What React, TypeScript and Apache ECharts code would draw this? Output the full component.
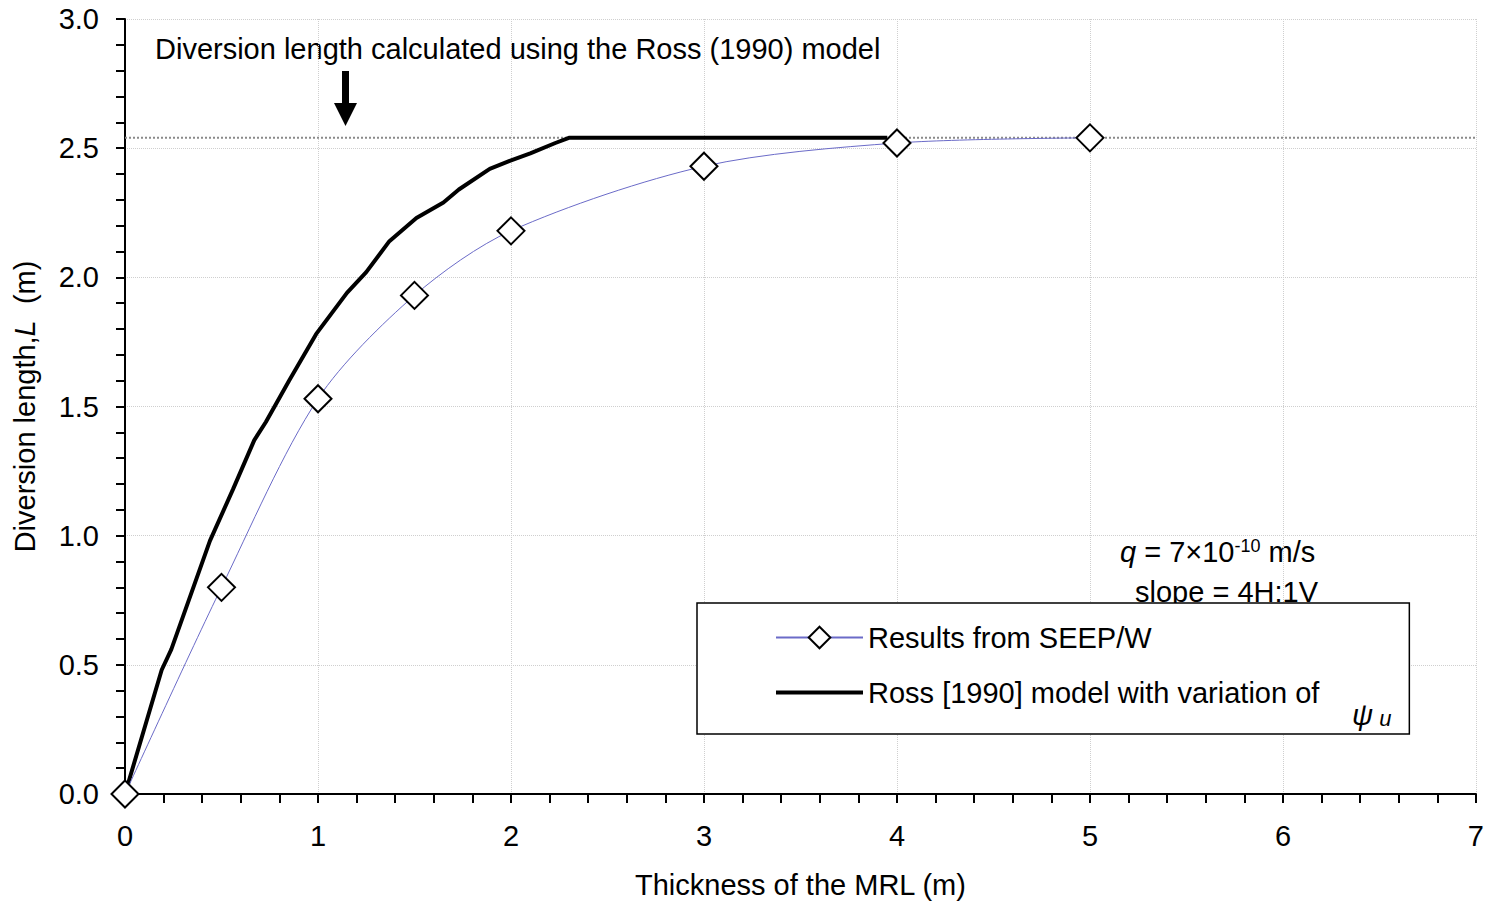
import React, { useEffect, useRef } from "react";
import * as echarts from "echarts";

// ---- data ----
const seepX = [0, 0.5, 1, 1.5, 2, 3, 4, 5];
const seepY = [0, 0.8, 1.53, 1.93, 2.18, 2.43, 2.52, 2.54];

const rossX = [0, 0.19, 0.24, 0.44, 0.56, 0.67, 0.73, 0.85, 0.99, 1.15, 1.25, 1.37, 1.51, 1.65, 1.73, 1.89, 1.99, 2.1, 2.23, 2.3, 3.95];
const rossY = [0, 0.48, 0.56, 0.98, 1.18, 1.37, 1.44, 1.6, 1.78, 1.94, 2.02, 2.14, 2.23, 2.29, 2.34, 2.42, 2.45, 2.48, 2.52, 2.54, 2.54];

const rossLimit = 2.54;
const xRange = [0, 7];
const yRange = [0, 3];

const seepName = "Results from SEEP/W";
const rossName = "Ross [1990] model with variation of";
const xName = "Thickness of the MRL (m)";
const annotation = "Diversion length calculated using the Ross (1990) model";

const FONT = "'Liberation Sans', Arial, sans-serif";

export default function App() {
  const ref = useRef<HTMLDivElement>(null);
  useEffect(() => {
    if (!ref.current) return;
    const chart = echarts.init(ref.current, undefined, { renderer: "svg" });
    const seepData = seepX.map((x, i) => [x, seepY[i]]);
    const rossData = rossX.map((x, i) => [x, rossY[i]]);
    const refData = xRange.map((x) => [x, rossLimit]);

    chart.setOption({
      animation: false,
      backgroundColor: "#fff",
      textStyle: { fontFamily: FONT, color: "#000" },
      grid: { left: 125, top: 19, right: 9, bottom: 113, containLabel: false },
      xAxis: {
        type: "value",
        min: xRange[0],
        max: xRange[1],
        interval: 1,
        name: xName,
        nameLocation: "middle",
        nameGap: 76,
        nameTextStyle: { fontSize: 29, color: "#000", fontFamily: FONT },
        axisLine: { show: true, onZero: false, lineStyle: { color: "#000", width: 2 } },
        axisTick: { show: true, inside: false, length: 9, lineStyle: { color: "#000", width: 2 } },
        minorTick: { show: true, splitNumber: 5, length: 9, lineStyle: { color: "#000", width: 2 } },
        axisLabel: { fontSize: 29, color: "#000", margin: 27, fontFamily: FONT },
        splitLine: { show: true, lineStyle: { color: "#cfcfcf", width: 1, type: "dotted" } },
      },
      yAxis: {
        type: "value",
        min: yRange[0],
        max: yRange[1],
        interval: 0.5,
        name: "Diversion length,{i|L}  (m)",
        nameLocation: "middle",
        nameGap: 86,
        nameTextStyle: {
          fontSize: 29,
          color: "#000",
          fontFamily: FONT,
          rich: { i: { fontSize: 29, fontStyle: "italic", fontFamily: FONT, color: "#000" } },
        },
        axisLine: { show: true, onZero: false, lineStyle: { color: "#000", width: 2 } },
        axisTick: { show: true, inside: false, length: 9, lineStyle: { color: "#000", width: 2 } },
        minorTick: { show: true, splitNumber: 5, length: 9, lineStyle: { color: "#000", width: 2 } },
        axisLabel: {
          fontSize: 29,
          color: "#000",
          margin: 26,
          fontFamily: FONT,
          formatter: (v: number) => v.toFixed(1),
        },
        splitLine: { show: true, lineStyle: { color: "#cfcfcf", width: 1, type: "dotted" } },
      },
      legend: {
        data: [
          { name: seepName },
          { name: rossName, icon: "path://M0,0 L87,0 L87,4 L0,4 Z", itemStyle: { color: "#000" } },
        ],
        orient: "vertical",
        left: 697,
        top: 603,
        padding: [20, 90, 27, 78],
        itemGap: 26,
        itemWidth: 87,
        itemHeight: 27,
        borderColor: "#000",
        borderWidth: 1.5,
        backgroundColor: "#fff",
        textStyle: { fontSize: 29, color: "#000", fontFamily: FONT },
        selectedMode: false,
      },
      series: [
        {
          name: "ref",
          type: "line",
          data: refData,
          symbol: "none",
          silent: true,
          clip: false,
          lineStyle: { color: "#8a8a8a", width: 2, type: "dotted" },
          z: 1,
        },
        {
          name: rossName,
          type: "line",
          data: rossData,
          symbol: "none",
          showSymbol: false,
          lineStyle: { color: "#000", width: 4 },
          itemStyle: { color: "#000" },
          z: 2,
        },
        {
          name: seepName,
          type: "line",
          data: seepData,
          smooth: 0.3,
          symbol: "diamond",
          symbolSize: 27,
          clip: false,
          lineStyle: { color: "#6b6bc8", width: 1 },
          itemStyle: { color: "#fff", borderColor: "#000", borderWidth: 2 },
          z: 3,
        },
      ],
      graphic: [
        {
          type: "text",
          left: 155,
          top: 34,
          style: { text: annotation, fontSize: 29, fill: "#000", fontFamily: FONT },
        },
        {
          type: "polygon",
          shape: {
            points: [
              [342, 71],
              [349, 71],
              [349, 103],
              [357, 103],
              [345.5, 126],
              [334, 103],
              [342, 103],
            ],
          },
          style: { fill: "#000" },
        },
        {
          type: "text",
          left: 1120,
          top: 537,
          style: {
            text: "{q|q} = 7×10{sup|-10} m/s",
            fontSize: 29,
            fill: "#000",
            fontFamily: FONT,
            rich: {
              q: { fontSize: 29, fontStyle: "italic", fontFamily: FONT },
              sup: { fontSize: 18, verticalAlign: "top", fontFamily: FONT },
            },
          },
        },
        {
          type: "text",
          left: 1135,
          top: 577,
          z: 0,
          style: { text: "slope = 4H:1V", fontSize: 29, fill: "#000", fontFamily: FONT },
        },
        {
          type: "text",
          left: 1352,
          top: 700,
          z: 100,
          style: {
            text: "{p|ψ}{u| u}",
            fill: "#000",
            fontFamily: FONT,
            rich: {
              p: { fontSize: 29, fontStyle: "italic", fontFamily: FONT },
              u: { fontSize: 22, fontStyle: "italic", fontFamily: FONT, verticalAlign: "bottom" },
            },
          },
        },
      ],
    });
    return () => chart.dispose();
  }, []);
  return (
    <div
      ref={ref}
      style={{ position: "fixed", left: 0, top: 0, width: 1487, height: 907, background: "#fff" }}
    />
  );
}
